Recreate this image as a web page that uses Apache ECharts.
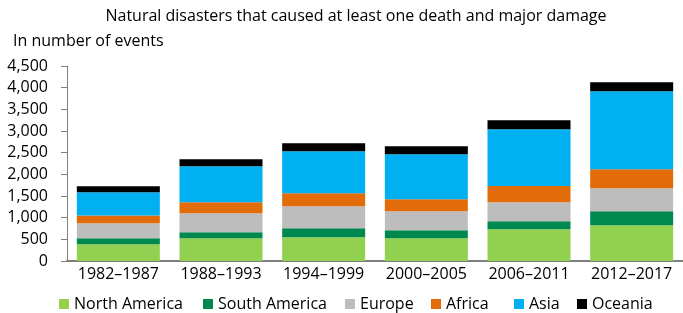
<!DOCTYPE html>
<html><head><meta charset="utf-8">
<script src="https://cdn.jsdelivr.net/npm/echarts@6/dist/echarts.min.js"></script>
<style>html,body{margin:0;padding:0;background:#fff}#c{width:683px;height:313px}</style>
</head><body><div id="c"></div>
<script>
const categories = ['1982–1987','1988–1993','1994–1999','2000–2005','2006–2011','2012–2017'];
const northAmerica = [385, 524, 547, 524, 731, 824];
const southAmerica = [140, 138, 207, 184, 185, 322];
const europe = [345, 438, 508, 438, 438, 531];
const africa = [178, 254, 300, 277, 377, 438];
const asia = [537, 831, 969, 1039, 1308, 1800];
const oceania = [138, 161, 184, 184, 207, 208];
const yTicks = [0, 500, 1000, 1500, 2000, 2500, 3000, 3500, 4000, 4500];

const FONT = '"Open Sans", sans-serif';
const seriesDefs = [
  ['North America', northAmerica, '#92d050'],
  ['South America', southAmerica, '#00894f'],
  ['Europe', europe, '#bdbdbd'],
  ['Africa', africa, '#e36c0a'],
  ['Asia', asia, '#00b0f0'],
  ['Oceania', oceania, '#000000']
];
const legendLeft = [59, 203, 345, 431, 514, 577];
const chart = echarts.init(document.getElementById('c'));
chart.setOption({
  animation: false,
  textStyle: {fontFamily: FONT},
  title: [
    {text: 'Natural disasters that caused at least one death and major damage', left: 351, textAlign: 'center', top: 3,
     textStyle: {fontSize: 16, fontWeight: 'normal', color: '#000', fontFamily: FONT}},
    {text: 'In number of events', left: 8, top: 28,
     textStyle: {fontSize: 16, fontWeight: 'normal', color: '#000', fontFamily: FONT}}
  ],
  legend: seriesDefs.map((s, i) => ({
    left: legendLeft[i], top: 296, padding: 0, itemWidth: 10, itemHeight: 10, icon: 'rect',
    textStyle: {fontSize: 16, color: '#000', fontFamily: FONT},
    data: [s[0]]
  })),
  grid: {left: 67, top: 66, width: 622, bottom: 52, containLabel: false},
  xAxis: {
    type: 'category', data: categories,
    axisLine: {lineStyle: {color: '#7f7f7f', width: 2}},
    axisTick: {show: false},
    axisLabel: {color: '#000', fontSize: 16, margin: 5, interval: 0, fontFamily: FONT}
  },
  yAxis: {
    type: 'value', min: 0, max: 4500, interval: 500,
    axisLine: {show: true, lineStyle: {color: '#7f7f7f', width: 1}},
    axisTick: {show: true, length: 6, lineStyle: {color: '#7f7f7f'}},
    splitLine: {show: false},
    axisLabel: {color: '#000', fontSize: 16, margin: 19, fontFamily: FONT,
      formatter: v => yTicks.includes(v) ? v.toLocaleString('en-US') : ''}
  },
  series: seriesDefs.map(([name, data, color]) => ({
    name, type: 'bar', stack: 'all', data, barWidth: 83,
    itemStyle: {color}
  }))
});
</script></body></html>
